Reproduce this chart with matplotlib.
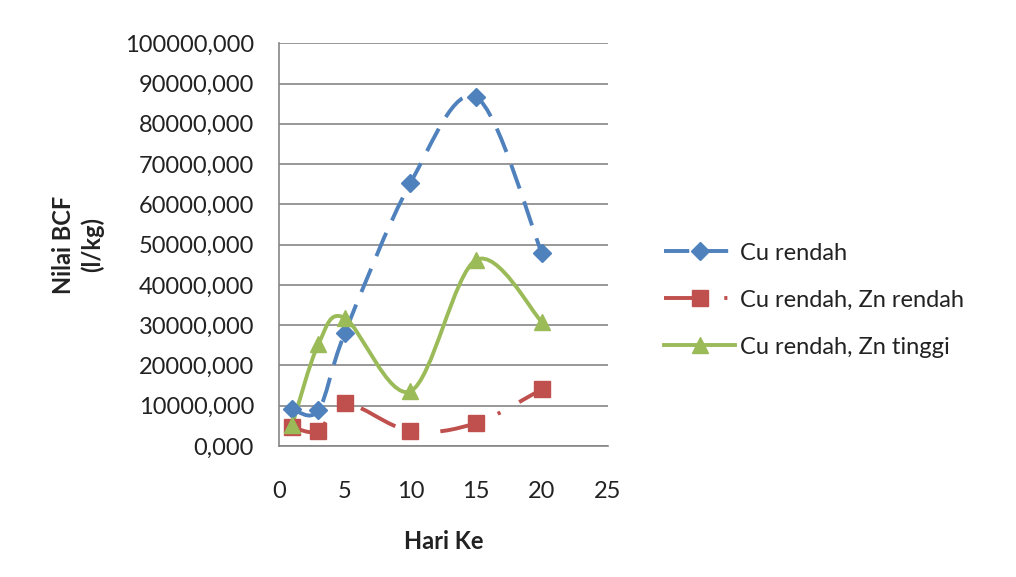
import numpy as np
import matplotlib
matplotlib.use("Agg")
import matplotlib.pyplot as plt
from matplotlib.path import Path
from matplotlib.patches import PathPatch
from matplotlib.lines import Line2D

plt.rcParams['font.family'] = ['Lato', 'DejaVu Sans']

hari = [1, 3, 5, 10, 15, 20]
cu_rendah = [9200, 8900, 28000, 65300, 86600, 47900]
cu_zn_rendah = [4700, 3700, 10700, 3700, 5700, 14100]
cu_zn_tinggi = [5200, 25300, 31800, 13600, 46200, 30800]

labels = ["Cu rendah", "Cu rendah, Zn rendah", "Cu rendah, Zn tinggi"]
colors = ["#4F81BD", "#C0504D", "#9BBB59"]
markers = ["D", "s", "^"]
msizes = [9, 12, 12]
dashes = [(0, (6.5, 3.5)), (0, (10, 5.5, 0.8, 5.5)), "solid"]
y_ticks = list(range(0, 100001, 10000))
x_ticks = [0, 5, 10, 15, 20, 25]

FS = 17
TXT = '#222222'
GRID = '#868686'

fig = plt.figure(figsize=(10.16, 5.77), dpi=100)
ax = fig.add_axes([0.2746, 0.227, 0.3234, 0.698])


def smooth_path(xs, ys):
    pts = np.column_stack([xs, ys]).astype(float)
    n = len(pts)
    verts = [pts[0]]
    codes = [Path.MOVETO]
    for i in range(n - 1):
        p0 = pts[i - 1] if i > 0 else pts[i]
        p1 = pts[i]
        p2 = pts[i + 1]
        p3 = pts[i + 2] if i + 2 < n else pts[i + 1]
        c1 = p1 + (p2 - p0) / 6.0
        c2 = p2 - (p3 - p1) / 6.0
        verts += [c1, c2, p2]
        codes += [Path.CURVE4] * 3
    return Path(verts, codes)


series = [cu_rendah, cu_zn_rendah, cu_zn_tinggi]
for ys, lab, c, m, ms, ls in zip(series, labels, colors, markers, msizes, dashes):
    patch = PathPatch(smooth_path(hari, ys), facecolor='none', edgecolor=c,
                      linewidth=2.8, linestyle=ls, zorder=3, capstyle='butt')
    ax.add_patch(patch)
    ax.plot(hari, ys, linestyle='none', marker=m, markersize=ms, color=c,
            markeredgecolor=c, zorder=4)

ax.set_xlim(0, 25)
ax.set_ylim(0, 100000)
ax.set_xticks(x_ticks)
ax.set_yticks(y_ticks)
ax.set_yticklabels([f"{v},000" for v in y_ticks])
ax.tick_params(axis='both', labelsize=FS, colors=GRID, labelcolor=TXT,
               length=0, width=1)
ax.tick_params(axis='x', pad=25)
ax.tick_params(axis='y', pad=18)
ax.yaxis.grid(True, color=GRID, linewidth=1.2)
ax.set_axisbelow(True)
for s in ['top', 'right']:
    ax.spines[s].set_visible(False)
for s in ['left', 'bottom']:
    ax.spines[s].set_color(GRID)
    ax.spines[s].set_linewidth(1.2)

fig.text(0.077, 0.576, "Nilai BCF\n(l/kg)", rotation=90, ha='center', va='center',
         fontsize=FS, fontweight='bold', color=TXT, multialignment='center',
         linespacing=1.3)
fig.text(0.437, 0.061, "Hari Ke", ha='center', va='center', fontsize=FS,
         fontweight='bold', color=TXT)

handles = [Line2D([], [], color=c, marker=m, markersize=ms, linestyle=ls, linewidth=2.8)
           for c, m, ms, ls in zip(colors, markers, msizes, dashes)]
fig.legend(handles, labels, loc='center left', bbox_to_anchor=(0.633, 0.48),
           frameon=False, fontsize=FS, handlelength=3.0, labelspacing=1.1,
           handletextpad=0.2, labelcolor=TXT)

fig.savefig("out.png", dpi=100)
